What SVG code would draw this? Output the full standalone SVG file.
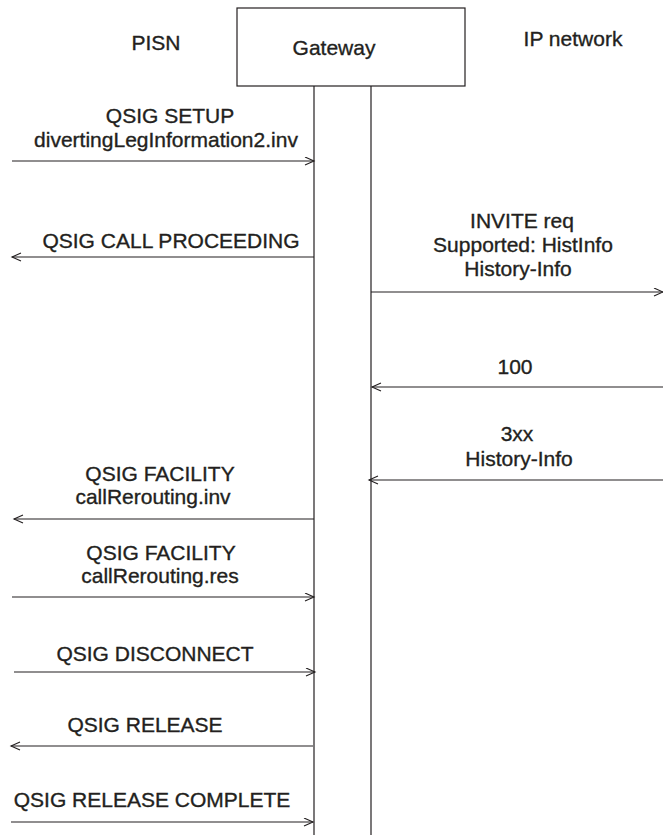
<svg xmlns="http://www.w3.org/2000/svg" width="663" height="837" viewBox="0 0 663 837">
<defs>
<style>
text{font-family:"Liberation Sans",Arial,sans-serif;font-size:21px;fill:#231f20;stroke:#231f20;stroke-width:0.35;text-anchor:middle}
.ln{stroke:#231f20;stroke-width:1.2;fill:none}
.msg{stroke:#231f20;stroke-width:1.2;fill:none;marker-end:url(#ah)}
</style>
<marker id="ah" markerUnits="userSpaceOnUse" markerWidth="12" markerHeight="10" refX="10" refY="4.5" orient="auto">
<path d="M1,0.5 L10,4.5 L1,8.5" fill="none" stroke="#231f20" stroke-width="1.1"/>
</marker>
</defs>
<rect width="663" height="837" fill="#fff"/>
<g id="pisn"><text x="156" y="50">PISN</text></g>
<g id="gateway">
<rect x="237" y="8" width="228" height="78" class="ln"/>
<text x="334" y="55">Gateway</text>
<line x1="314" y1="86" x2="314" y2="835" class="ln"/>
<line x1="371" y1="86" x2="371" y2="835" class="ln"/>
</g>
<g id="ipnetwork"><text x="573" y="46">IP network</text></g>
<g id="connectors">
<line x1="12" y1="161" x2="314" y2="161" class="msg"/>
<text x="170" y="123">QSIG SETUP</text>
<text x="166" y="147">divertingLegInformation2.inv</text>

<line x1="314" y1="257" x2="12" y2="257" class="msg"/>
<text x="171" y="248">QSIG CALL PROCEEDING</text>

<line x1="371" y1="292" x2="663" y2="292" class="msg"/>
<text x="522" y="228">INVITE req</text>
<text x="523" y="252">Supported: HistInfo</text>
<text x="518" y="276">History-Info</text>

<line x1="663" y1="387" x2="372" y2="387" class="msg"/>
<text x="515" y="374">100</text>

<line x1="663" y1="480" x2="369" y2="480" class="msg"/>
<text x="517" y="441">3xx</text>
<text x="519" y="466">History-Info</text>

<line x1="314" y1="519" x2="14" y2="519" class="msg"/>
<text x="160" y="481">QSIG FACILITY</text>
<text x="153" y="504">callRerouting.inv</text>

<line x1="12" y1="597" x2="314" y2="597" class="msg"/>
<text x="161" y="560">QSIG FACILITY</text>
<text x="160" y="583">callRerouting.res</text>

<line x1="14" y1="672" x2="315" y2="672" class="msg"/>
<text x="155" y="661">QSIG DISCONNECT</text>

<line x1="313" y1="746" x2="11" y2="746" class="msg"/>
<text x="145" y="732">QSIG RELEASE</text>

<line x1="11" y1="822" x2="313" y2="822" class="msg"/>
<text x="152" y="807">QSIG RELEASE COMPLETE</text>
</g>
</svg>
